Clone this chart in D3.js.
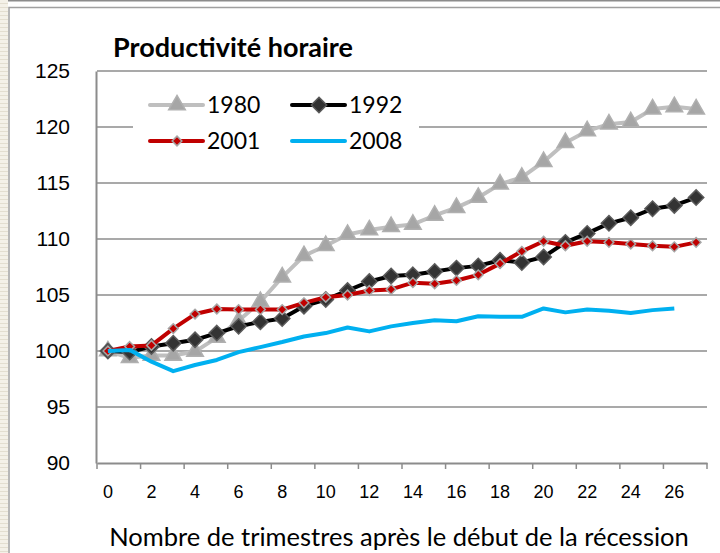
<!DOCTYPE html>
<html>
<head>
<meta charset="utf-8">
<script src="https://cdn.jsdelivr.net/npm/d3@7"></script>
<style>
  html, body { margin: 0; padding: 0; background: #fff; }
  svg { display: block; font-family: Lato, "Open Sans", sans-serif; }
</style>
</head>
<body>
<div id="chart"></div>
<script>
// Quarters after the start of the recession
const quarters = [0, 1, 2, 3, 4, 5, 6, 7, 8, 9, 10, 11, 12, 13, 14, 15, 16, 17, 18, 19, 20, 21, 22, 23, 24, 25, 26, 27];
const yTicks = [90, 95, 100, 105, 110, 115, 120, 125];

// Hourly productivity, index 100 at recession start
const s1980 = [100, 99.4, 99.6, 99.6, 99.95, 101.2, 102.7, 104.4, 106.6, 108.5, 109.4, 110.4, 110.8, 111.1,
               111.3, 112.1, 112.8, 113.7, 114.9, 115.5, 116.9, 118.6, 119.65, 120.25, 120.45, 121.6, 121.8, 121.6];
const s1992 = [100, 99.9, 100.4, 100.7, 101.0, 101.6, 102.2, 102.6, 102.9, 104.0, 104.6, 105.4, 106.2, 106.7,
               106.8, 107.1, 107.4, 107.6, 108.1, 107.9, 108.4, 109.7, 110.5, 111.4, 111.9, 112.7, 113.0, 113.7];
const s2001 = [100, 100.4, 100.5, 102.0, 103.3, 103.75, 103.7, 103.7, 103.7, 104.3, 104.8, 105.0, 105.4, 105.5,
               106.1, 106.0, 106.3, 106.8, 107.8, 108.9, 109.8, 109.4, 109.8, 109.7, 109.55, 109.4, 109.3, 109.7];
const s2008 = [100, 100.1, 99.05, 98.2, 98.75, 99.2, 99.9, 100.35, 100.8, 101.3, 101.6, 102.1, 101.75, 102.2,
               102.5, 102.75, 102.65, 103.1, 103.05, 103.05, 103.8, 103.45, 103.7, 103.6, 103.4, 103.65, 103.8];

const width = 720;
const height = 553;
const margin = { top: 71, right: 13, bottom: 90, left: 97 };

const svg = d3.select("#chart")
    .append("svg")
    .attr("width", width)
    .attr("height", height)
    .attr("viewBox", `0 0 ${width} ${height}`);

// Page frame: striped strip on the left, border round the chart
const defs = svg.append("defs");
const stripes = defs.append("pattern")
    .attr("id", "stripes")
    .attr("width", 8)
    .attr("height", 4)
    .attr("patternUnits", "userSpaceOnUse");
stripes.append("rect").attr("width", 8).attr("height", 4).attr("fill", "#f4f1e8");
stripes.append("rect").attr("y", 3).attr("width", 8).attr("height", 1).attr("fill", "#e3ded0");

svg.append("rect").attr("x", 0).attr("y", 0).attr("width", 8).attr("height", height).attr("fill", "url(#stripes)");
svg.append("line")
    .attr("x1", 8).attr("x2", width).attr("y1", 0.5).attr("y2", 0.5)
    .attr("stroke", "#8c8c8c").attr("stroke-width", 2);
svg.append("rect")
    .attr("x", 9).attr("y", 7.5)
    .attr("width", width).attr("height", height)
    .attr("fill", "#fff")
    .attr("stroke", "#a0a0a0")
    .attr("stroke-width", 1.5);

// Scales
const x = d3.scaleBand()
    .domain(quarters)
    .range([margin.left, width - margin.right])
    .padding(0);

const y = d3.scaleLinear()
    .domain([90, 125])
    .range([height - margin.bottom, margin.top]);

const cx = d => x(d) + x.bandwidth() / 2;

// Gridlines
svg.append("g")
    .selectAll("line")
    .data(yTicks.filter(t => t > 90))
    .join("line")
    .attr("x1", margin.left)
    .attr("x2", width - margin.right)
    .attr("y1", d => y(d))
    .attr("y2", d => y(d))
    .attr("stroke", "#8c8c8c")
    .attr("stroke-width", 1.5);

// Y axis
const yAxis = svg.append("g")
    .attr("transform", `translate(${margin.left - 1}, 0)`)
    .call(d3.axisLeft(y).tickValues(yTicks).tickSize(0).tickPadding(26));
yAxis.select(".domain").attr("stroke", "#8c8c8c").attr("stroke-width", 2);
yAxis.selectAll("text")
    .style("font-size", "21px")
    .attr("fill", "#000");

// X axis: labels every other quarter, ticks on band edges
const evenQ = quarters.filter(q => q % 2 === 0);
const xAxis = svg.append("g")
    .attr("transform", `translate(0, ${y(90)})`)
    .call(d3.axisBottom(x).tickValues(evenQ).tickSize(0).tickPadding(22));
xAxis.select(".domain").attr("stroke", "#8c8c8c").attr("stroke-width", 2);
xAxis.selectAll("text")
    .style("font-size", "18px")
    .attr("fill", "#000");

svg.append("g")
    .selectAll("line")
    .data(evenQ)
    .join("line")
    .attr("x1", d => x(d))
    .attr("x2", d => x(d))
    .attr("y1", y(90))
    .attr("y2", y(90) + 6)
    .attr("stroke", "#8c8c8c")
    .attr("stroke-width", 1.5);
svg.append("line")
    .attr("x1", x.range()[1]).attr("x2", x.range()[1])
    .attr("y1", y(90)).attr("y2", y(90) + 6)
    .attr("stroke", "#8c8c8c").attr("stroke-width", 1.5);

// Series
const series = [
    { name: "1980", values: s1980, color: "#bfbfbf", marker: "triangle", fill: "#a6a6a6", stroke: "#b0b0b0", size: 120 },
    { name: "1992", values: s1992, color: "#000000", marker: "diamond", fill: "#333333", stroke: "#5a5a5a", size: 150 },
    { name: "2001", values: s2001, color: "#c00000", marker: "diamond", fill: "#c00000", stroke: "#a6a6a6", size: 60 },
    { name: "2008", values: s2008, color: "#00b0f0", marker: null }
];

const line = d3.line()
    .x((d, i) => cx(quarters[i]))
    .y(d => y(d));

const symbolFor = m => m === "triangle" ? d3.symbolTriangle : d3.symbolDiamond2;

series.forEach(s => {
    const g = svg.append("g");
    g.append("path")
        .datum(s.values)
        .attr("fill", "none")
        .attr("stroke", s.color)
        .attr("stroke-width", 4)
        .attr("stroke-linejoin", "round")
        .attr("d", line);
    if (s.marker) {
        g.selectAll("path.marker")
            .data(s.values)
            .join("path")
            .attr("class", "marker")
            .attr("transform", (d, i) => `translate(${cx(quarters[i])},${y(d)})`)
            .attr("d", d3.symbol().type(symbolFor(s.marker)).size(s.size))
            .attr("fill", s.fill)
            .attr("stroke", s.stroke)
            .attr("stroke-width", 1.5);
    }
});

// Legend (white box hides gridlines behind it)
const legend = svg.append("g");
legend.append("rect")
    .attr("x", 133).attr("y", 86)
    .attr("width", 286).attr("height", 72)
    .attr("fill", "#fff");

const legendPos = [
    { x: 150, y: 105 }, { x: 292, y: 105 },
    { x: 150, y: 141 }, { x: 292, y: 141 }
];

series.forEach((s, i) => {
    const p = legendPos[i];
    const item = legend.append("g").attr("transform", `translate(${p.x},${p.y})`);
    item.append("line")
        .attr("x1", 0).attr("x2", 53)
        .attr("stroke", s.color)
        .attr("stroke-width", 4)
        .attr("stroke-linecap", "round");
    if (s.marker) {
        item.append("path")
            .attr("transform", "translate(27,0)")
            .attr("d", d3.symbol().type(symbolFor(s.marker)).size(s.size))
            .attr("fill", s.fill)
            .attr("stroke", s.stroke)
            .attr("stroke-width", 1.5);
    }
    item.append("text")
        .attr("x", 57)
        .attr("y", 8)
        .style("font-size", "23px")
        .text(s.name);
});

// Title and axis label
svg.append("text")
    .attr("x", 113)
    .attr("y", 57)
    .style("font-size", "27px")
    .style("font-weight", "bold")
    .text("Productivité horaire");

svg.append("text")
    .attr("x", 399)
    .attr("y", 546)
    .attr("text-anchor", "middle")
    .style("font-size", "25.5px")
    .text("Nombre de trimestres après le début de la récession");
</script>
</body>
</html>
